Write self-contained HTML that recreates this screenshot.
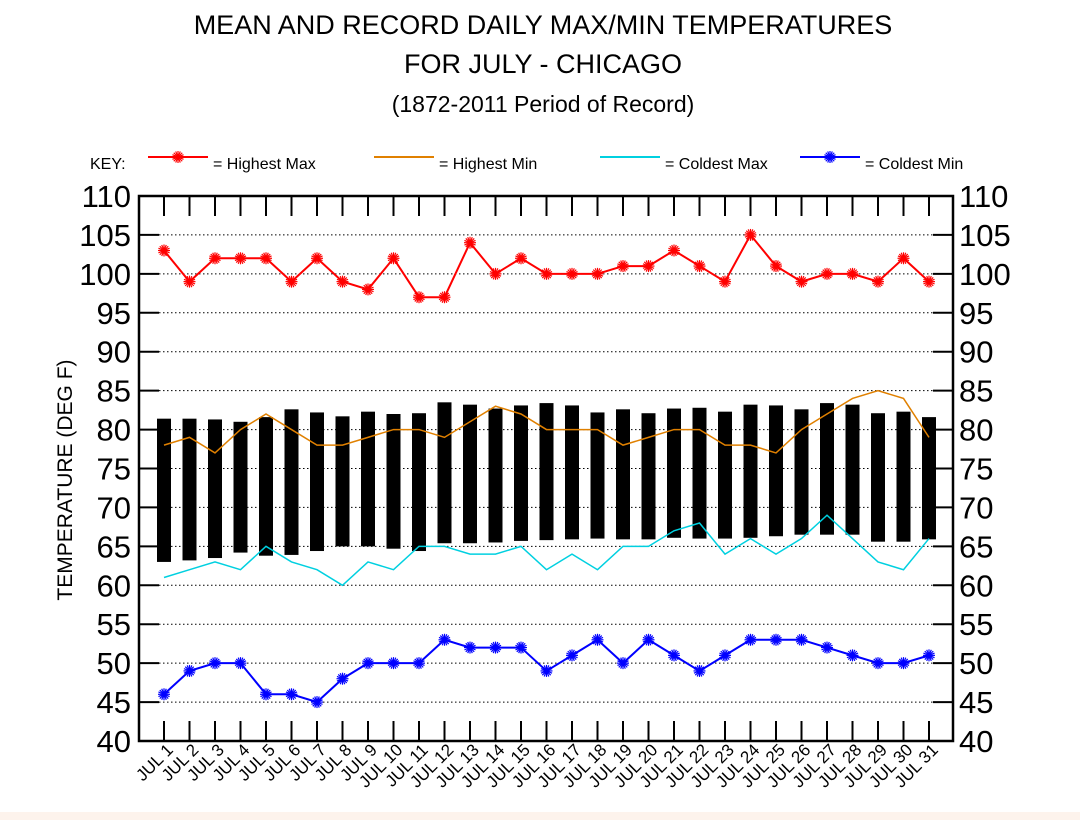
<!DOCTYPE html>
<html><head><meta charset="utf-8"><style>
body{margin:0;background:#fff;}
svg{display:block;font-family:"Liberation Sans",Arial,sans-serif;}
</style></head><body>
<svg id="chart" width="1080" height="820">
<rect x="0" y="812" width="1080" height="8" fill="#fdf3ec"/>
<text x="543" y="34" font-size="27" text-anchor="middle">MEAN AND RECORD DAILY MAX/MIN TEMPERATURES</text>
<text x="543" y="73" font-size="27" text-anchor="middle">FOR JULY - CHICAGO</text>
<text x="543" y="112" font-size="23" text-anchor="middle">(1872-2011 Period of Record)</text>
<text x="90" y="169" font-size="16">KEY:</text>
<g id="legend"></g>
<g id="plot"></g>
<text transform="translate(72,480) rotate(-90)" font-size="21" text-anchor="middle">TEMPERATURE (DEG F)</text>
</svg>
<script>
const days=[1,2,3,4,5,6,7,8,9,10,11,12,13,14,15,16,17,18,19,20,21,22,23,24,25,26,27,28,29,30,31];
const highestMax=[103,99,102,102,102,99,102,99,98,102,97,97,104,100,102,100,100,100,101,101,103,101,99,105,101,99,100,100,99,102,99];
const highestMin=[78,79,77,80,82,80,78,78,79,80,80,79,81,83,82,80,80,80,78,79,80,80,78,78,77,80,82,84,85,84,79];
const coldestMax=[61,62,63,62,65,63,62,60,63,62,65,65,64,64,65,62,64,62,65,65,67,68,64,66,64,66,69,66,63,62,66];
const coldestMin=[46,49,50,50,46,46,45,48,50,50,50,53,52,52,52,49,51,53,50,53,51,49,51,53,53,53,52,51,50,50,51];
const meanMax=[81.4,81.4,81.3,81,81.6,82.6,82.2,81.7,82.3,82,82.1,83.5,83.2,82.7,83.1,83.4,83.1,82.2,82.6,82.1,82.7,82.8,82.3,83.2,83.1,82.6,83.4,83.2,82.1,82.3,81.6];
const meanMin=[63,63.2,63.5,64.2,63.8,63.9,64.4,65,65,64.7,64.4,65.4,65.4,65.5,65.7,65.8,65.9,66,65.9,65.9,66.1,66,66,66.1,66.3,66.5,66.5,66.5,65.6,65.6,65.9];
const yTicks=[40,45,50,55,60,65,70,75,80,85,90,95,100,105,110];

const L=139,R=953,T=196,B=741;
const y=v=>B-(v-40)*(B-T)/70;
const x=d=>164+(d-1)*25.5;
const NS="http://www.w3.org/2000/svg";
const plot=document.getElementById('plot');
const leg=document.getElementById('legend');
function mk(tag,at,parent){const e=document.createElementNS(NS,tag);for(const k in at)e.setAttribute(k,at[k]);(parent||plot).appendChild(e);return e;}
function star(cx,cy,c,parent,name){
  const g=mk('g',{stroke:c,'stroke-width':1.2},parent);
  
  
  for(let a=0;a<8;a++){const t=a*Math.PI/8;mk('line',{x1:cx-6*Math.cos(t),y1:cy-6*Math.sin(t),x2:cx+6*Math.cos(t),y2:cy+6*Math.sin(t)},g);}
  mk('circle',{cx:cx,cy:cy,r:1.5,fill:c,stroke:'none'},g);
}
yTicks.forEach(v=>{
  if(v>40&&v<110){const g=mk('line',{x1:L,x2:R,y1:y(v),y2:y(v),stroke:'#000','stroke-width':1,'stroke-dasharray':'1.5,2.5'});
  
  }
  const t1=mk('line',{x1:L,x2:L+20,y1:y(v),y2:y(v),stroke:'#000','stroke-width':2});
  
  
  const t2=mk('line',{x1:R-20,x2:R,y1:y(v),y2:y(v),stroke:'#000','stroke-width':2});
  
  
  const a=mk('text',{x:L-8,y:y(v)+11,'font-size':31,'text-anchor':'end'});a.textContent=v;
  
  
  const b=mk('text',{x:R+6,y:y(v)+11,'font-size':31,'text-anchor':'start'});b.textContent=v;
  
  
});
days.forEach((d,i)=>{
  const r=mk('rect',{x:x(d)-7,y:y(meanMax[i]),width:14,height:y(meanMin[i])-y(meanMax[i]),fill:'#000'});
  
  
});
days.forEach(d=>{
  const a=mk('line',{x1:x(d),x2:x(d),y1:T,y2:T+20,stroke:'#000','stroke-width':2});
  
  
  const b=mk('line',{x1:x(d),x2:x(d),y1:B-20,y2:B,stroke:'#000','stroke-width':2});
  
  
  const t=mk('text',{transform:`translate(${x(d)+10},${B+10}) rotate(-45)`,'font-size':17,'text-anchor':'end'});
  t.textContent='JUL '+d;
  
  
});
const fr=mk('rect',{x:L,y:T,width:R-L,height:B-T,fill:'none',stroke:'#000','stroke-width':2.5});


function series(vals,c,w,stars,name){
  const p=mk('polyline',{points:days.map((d,i)=>x(d)+','+y(vals[i])).join(' '),fill:'none',stroke:c,'stroke-width':w});
  
  
  if(stars)days.forEach((d,i)=>star(x(d),y(vals[i]),c,plot,name+'-marker'));
}
series(coldestMax,'#00d0e0',1.5,false,'coldest-max');
series(highestMin,'#e08000',1.5,false,'highest-min');
series(highestMax,'#ff0000',2,true,'highest-max');
series(coldestMin,'#0000ff',2,true,'coldest-min');
const items=[['= Highest Max','#ff0000',true,148],['= Highest Min','#e08000',false,374],['= Coldest Max','#00d0e0',false,600],['= Coldest Min','#0000ff',true,800]];
items.forEach(it=>{
  const l=mk('line',{x1:it[3],x2:it[3]+60,y1:157,y2:157,stroke:it[1],'stroke-width':2},leg);
  
  
  if(it[2])star(it[3]+30,157,it[1],leg,'legend-marker');
  const t=mk('text',{x:it[3]+65,y:169,'font-size':16},leg);t.textContent=it[0];
  
  
});
</script>
</body></html>
